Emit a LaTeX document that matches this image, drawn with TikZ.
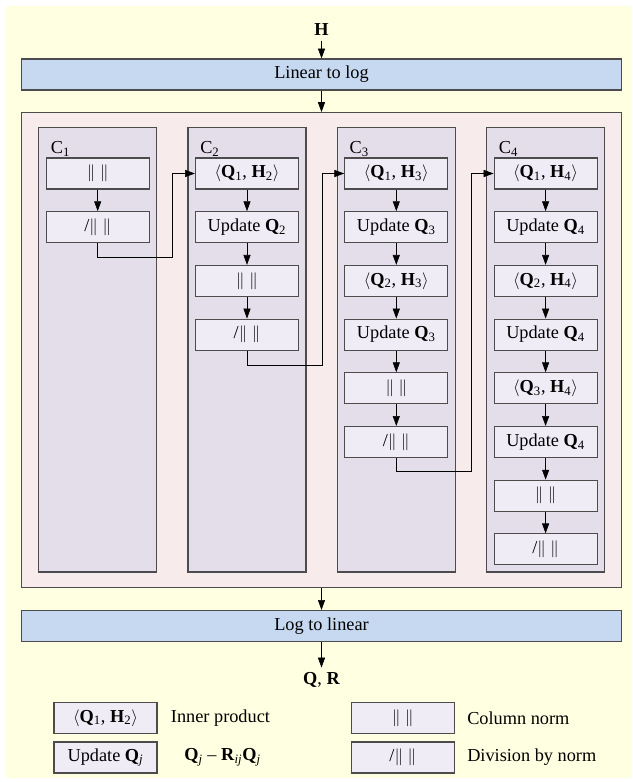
\documentclass[tikz,border=0pt]{standalone}
\usepackage{fontspec}
\setmainfont{Liberation Serif}
\usetikzlibrary{arrows.meta}

\definecolor{bgyellow}{RGB}{255,255,225}
\definecolor{convblue}{RGB}{198,217,240}
\definecolor{corepink}{RGB}{247,235,236}
\definecolor{collilac}{RGB}{228,222,235}
\definecolor{oplilac}{RGB}{239,236,246}

\newcommand{\innerp}[2]{$\langle$\textbf{Q}\textsubscript{#1}, \textbf{H}\textsubscript{#2}$\rangle$}
\newcommand{\updq}[1]{Update \textbf{Q}\textsubscript{#1}}
\newcommand{\colnorm}{$\|\;\|$}
\newcommand{\divnorm}{/$\|\;\|$}

\begin{document}
\begin{tikzpicture}[x=0.025cm, y=-0.025cm,
    >={Triangle[length=7pt,width=5pt]},
    every node/.style={font=\fontsize{13}{15}\selectfont},
    conv/.style={draw=black!70, line width=0.8pt, fill=convblue, minimum width=14.975cm, minimum height=0.775cm, inner sep=0pt},
    core/.style={draw=black!70, line width=0.8pt, fill=corepink, minimum width=14.975cm, minimum height=11.87cm, inner sep=0pt},
    column/.style={draw=black!70, line width=0.8pt, fill=collilac, minimum width=2.95cm, minimum height=11.11cm, inner sep=0pt},
    op/.style={draw=black!70, line width=0.8pt, fill=oplilac, minimum width=2.575cm, minimum height=0.775cm, inner sep=0pt},
    clabel/.style={anchor=base west, inner sep=0pt}]
    \useasboundingbox (0,0) rectangle (632,782);
    \fill[bgyellow] (6,6) rectangle (632,778);

    \node (H) at (321.5,30) {\textbf{H}};
    \node[conv] (lin2log) at (321.5,74.5) {Linear to log};
    \node[core] (core) at (321.5,350.1) {};
    \node[conv] (log2lin) at (321.5,626) {Log to linear};
    \node (QR) at (321.5,680) {\textbf{Q}, \textbf{R}};
    \draw[->] (H) -- (lin2log);
    \draw[->] (lin2log) -- (core);
    \draw[->] (core) -- (log2lin);
    \draw[->] (log2lin) -- (QR);

    \node[column] (col1) at (97.7,349.75) {};
    \node[column] (col2) at (247,349.75) {};
    \node[column] (col3) at (396.3,349.75) {};
    \node[column] (col4) at (545.6,349.75) {};
    \node[clabel] (lbl1) at (50.7,153.5) {C\textsubscript{1}};
    \node[clabel] (lbl2) at (200,153.5) {C\textsubscript{2}};
    \node[clabel] (lbl3) at (349.3,153.5) {C\textsubscript{3}};
    \node[clabel] (lbl4) at (498.6,153.5) {C\textsubscript{4}};

    \node[op] (c1a) at (97.7,173.5) {\colnorm};
    \node[op] (c1b) at (97.7,227.2) {\divnorm};
    \draw[->] (c1a) -- (c1b);

    \node[op] (c2a) at (247,173.5) {\innerp{1}{2}};
    \node[op] (c2b) at (247,227.2) {\updq{2}};
    \node[op] (c2c) at (247,280.9) {\colnorm};
    \node[op] (c2d) at (247,334.6) {\divnorm};
    \draw[->] (c2a) -- (c2b);
    \draw[->] (c2b) -- (c2c);
    \draw[->] (c2c) -- (c2d);

    \node[op] (c3a) at (396.3,173.5) {\innerp{1}{3}};
    \node[op] (c3b) at (396.3,227.2) {\updq{3}};
    \node[op] (c3c) at (396.3,280.9) {\innerp{2}{3}};
    \node[op] (c3d) at (396.3,334.6) {\updq{3}};
    \node[op] (c3e) at (396.3,388.3) {\colnorm};
    \node[op] (c3f) at (396.3,442) {\divnorm};
    \draw[->] (c3a) -- (c3b);
    \draw[->] (c3b) -- (c3c);
    \draw[->] (c3c) -- (c3d);
    \draw[->] (c3d) -- (c3e);
    \draw[->] (c3e) -- (c3f);

    \node[op] (c4a) at (545.6,173.5) {\innerp{1}{4}};
    \node[op] (c4b) at (545.6,227.2) {\updq{4}};
    \node[op] (c4c) at (545.6,280.9) {\innerp{2}{4}};
    \node[op] (c4d) at (545.6,334.6) {\updq{4}};
    \node[op] (c4e) at (545.6,388.3) {\innerp{3}{4}};
    \node[op] (c4f) at (545.6,442) {\updq{4}};
    \node[op] (c4g) at (545.6,495.7) {\colnorm};
    \node[op] (c4h) at (545.6,549.4) {\divnorm};
    \draw[->] (c4a) -- (c4b);
    \draw[->] (c4b) -- (c4c);
    \draw[->] (c4c) -- (c4d);
    \draw[->] (c4d) -- (c4e);
    \draw[->] (c4e) -- (c4f);
    \draw[->] (c4f) -- (c4g);
    \draw[->] (c4g) -- (c4h);

    \coordinate (g12) at (172.5,257);
    \coordinate (g23) at (322,365);
    \coordinate (g34) at (471,471);
    \draw[->] (c1b.south) |- (g12) |- (c2a.west);
    \draw[->] (c2d.south) |- (g23) |- (c3a.west);
    \draw[->] (c3f.south) |- (g34) |- (c4a.west);

    \node[op] (keyip) at (105.5,718) {\innerp{1}{2}};
    \node[op] (keyupd) at (105.5,757.5) {Update \textbf{Q}\textsubscript{\textit{j}}};
    \node[op] (keynrm) at (402.8,718) {\colnorm};
    \node[op] (keydiv) at (402.8,757.5) {\divnorm};
    \node[anchor=west, inner sep=0pt] (keyiptxt) at (170.7,718) {Inner product};
    \node[anchor=west, inner sep=0pt] (keyupdtxt) at (184,757.5) {\textbf{Q}\textsubscript{\textit{j}} – \textbf{R}\textsubscript{\textit{ij}}\textbf{Q}\textsubscript{\textit{j}}};
    \node[anchor=west, inner sep=0pt] (keynrmtxt) at (467,718) {Column norm};
    \node[anchor=west, inner sep=0pt] (keydivtxt) at (467,757.5) {Division by norm};
\end{tikzpicture}
\end{document}
